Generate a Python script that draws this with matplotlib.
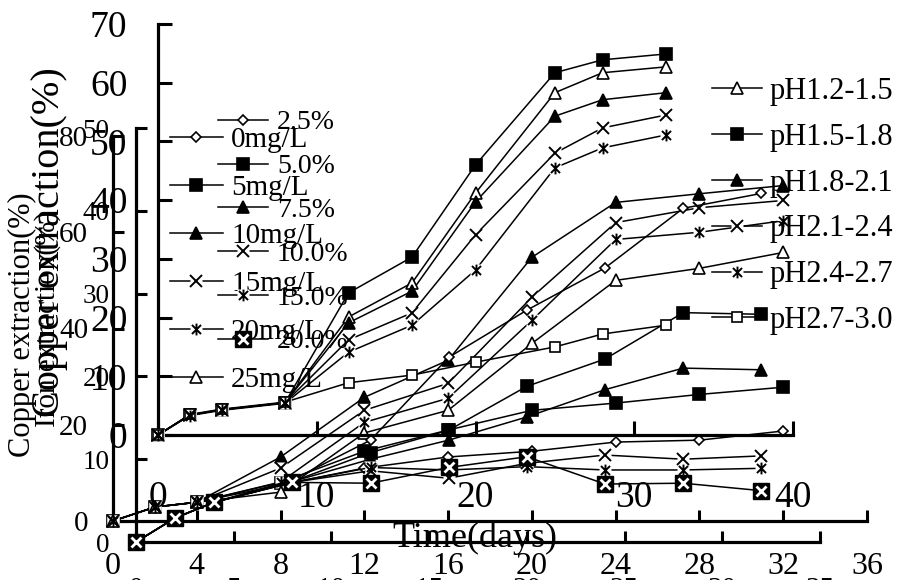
import numpy as np
import matplotlib.pyplot as plt
from matplotlib.path import Path
from matplotlib.legend_handler import HandlerTuple

plt.rcParams['font.family'] = ['Liberation Serif', 'DejaVu Serif']

# ---- chart 1: copper extraction vs pH range ----
ph_days = [0, 2, 4, 8, 12, 16, 20, 25, 28, 32]
ph_labels = ["pH1.2-1.5", "pH1.5-1.8", "pH1.8-2.1", "pH2.1-2.4", "pH2.4-2.7", "pH2.7-3.0"]
ph_12_15 = [0, 3.4, 4.3, 5.5, 20.1, 25.9, 41.2, 58.3, 61.7, 62.7]
ph_15_18 = [0, 3.4, 4.3, 5.5, 24.2, 30.3, 46.0, 61.7, 63.9, 64.9]
ph_18_21 = [0, 3.4, 4.3, 5.5, 19.1, 24.5, 39.7, 54.3, 57.1, 58.3]
ph_21_24 = [0, 3.4, 4.3, 5.5, 16.2, 20.8, 34.1, 48.0, 52.3, 54.5]
ph_24_27 = [0, 3.3, 4.2, 5.4, 14.1, 18.7, 28.1, 45.5, 48.9, 51.1]
ph_27_30 = [0, 3.5, 4.4, 5.6, 8.9, 10.2, 12.4, 15.0, 17.2, 18.7]

# ---- chart 2: copper extraction vs concentration (mg/L) ----
mg_days = [0, 2, 4, 8, 12, 16, 20, 24, 28, 32]
mg_labels = ["0mg/L", "5mg/L", "10mg/L", "15mg/L", "20mg/L", "25mg/L"]
mg_0 = [0, 2.9, 3.9, 7.5, 11.0, 13.3, 14.5, 16.4, 16.8, 18.7]
mg_5 = [0, 2.9, 3.9, 8.0, 14.5, 18.9, 23.0, 24.5, 26.3, 27.8]
mg_10 = [0, 2.9, 3.9, 13.3, 25.7, 33.4, 54.8, 66.2, 68.0, 69.7]
mg_15 = [0, 2.9, 3.9, 11.0, 23.0, 28.6, 46.5, 62.0, 65.1, 66.6]
mg_20 = [0, 2.9, 3.9, 8.1, 20.5, 25.5, 41.7, 58.5, 60.0, 62.4]
mg_25 = [0, 2.9, 3.9, 6.0, 18.3, 23.0, 36.9, 50.0, 52.5, 55.8]

# ---- chart 3: iron extraction vs pulp density (%) ----
pc_days = [0, 2, 4, 8, 12, 16, 20, 24, 28, 32]
pc_labels = ["2.5%", "5.0%", "7.5%", "10.0%", "15.0%", "20.0%"]
pc_25 = [0, 2.9, 4.8, 7.5, 12.3, 22.3, 28.0, 33.1, 40.3, 42.1]
pc_50 = [0, 2.9, 4.8, 7.3, 10.8, 13.5, 18.8, 22.1, 27.7, 27.5]
pc_75 = [0, 2.9, 4.8, 7.3, 10.0, 12.3, 15.1, 18.4, 21.0, 20.8]
pc_100 = [0, 2.9, 4.8, 7.2, 8.6, 7.7, 9.5, 10.5, 10.0, 10.4]
pc_150 = [0, 2.9, 4.8, 7.2, 9.0, 8.7, 9.1, 8.7, 8.7, 8.9]
pc_200 = [0, 2.9, 4.8, 7.2, 7.1, 9.0, 10.3, 7.0, 7.1, 6.2]

W, H = 900, 580
fig = plt.figure(figsize=(W / 100, H / 100), dpi=100)

# asterisk marker: an x with a vertical bar through it
ast = Path([(-1, -1), (1, 1), (-1, 1), (1, -1), (0, -1.3), (0, 1.3)],
           [Path.MOVETO, Path.LINETO, Path.MOVETO, Path.LINETO, Path.MOVETO, Path.LINETO])


def make_axes(x0, x1, ytop, ybot):
    ax = fig.add_axes([x0 / W, 1 - ybot / H, (x1 - x0) / W, (ybot - ytop) / H])
    ax.patch.set_visible(False)
    for s in ("top", "right"):
        ax.spines[s].set_visible(False)
    for s in ("left", "bottom"):
        ax.spines[s].set_linewidth(2.3)
    return ax


def style_ticks(ax, ysize, xsize, ypad, xpad, tlen):
    ax.tick_params(axis="y", direction="in", length=tlen, width=2.2, labelsize=ysize, pad=ypad)
    ax.tick_params(axis="x", direction="in", length=tlen, width=2.2, labelsize=xsize, pad=xpad)


def plot_series(ax, x, y, kind, ms=8.5):
    kw = dict(clip_on=False, color="black")
    line, = ax.plot(x, y, lw=1.1, zorder=2, **kw)
    parts = [line]
    if kind in ("x", "ast"):
        bg, = ax.plot(x, y, ls="none", marker="s", ms=ms * 1.1, mfc="white", mec="none", zorder=3, clip_on=False)
        parts.append(bg)
        m = "x" if kind == "x" else ast
        mk, = ax.plot(x, y, ls="none", marker=m, ms=ms, mew=1.4, mfc="none", zorder=4, **kw)
        parts.append(mk)
    elif kind == "sqx":
        sq, = ax.plot(x, y, ls="none", marker="s", ms=11, mfc="black", mec="black", zorder=3, **kw)
        xx, = ax.plot(x, y, ls="none", marker="x", ms=7, mew=2, mec="white", zorder=4, clip_on=False)
        parts += [sq, xx]
    else:
        marker, face, size = {
            "otri": ("^", "white", ms * 1.05),
            "ftri": ("^", "black", ms * 1.05),
            "osq": ("s", "white", ms * 0.85),
            "fsq": ("s", "black", ms),
            "odia": ("D", "white", ms * 0.62),
        }[kind]
        mk, = ax.plot(x, y, ls="none", marker=marker, ms=size, mfc=face, mec="black", mew=1.2, zorder=3, **kw)
        parts.append(mk)
    return tuple(parts)


# axes: concentration chart (0-80), pulp density chart (0-50), pH chart (0-70)
ax_mg = make_axes(113, 867, 136, 521)
ax_mg.set_xlim(0, 36)
ax_mg.set_ylim(0, 80)
ax_mg.set_xticks(np.arange(0, 37, 4))
ax_mg.set_yticks(np.arange(0, 81, 20))
style_ticks(ax_mg, 21, 23, 18, 22, 8)

ax_pc = make_axes(136, 820, 128, 542)
ax_pc.set_xlim(0, 35)
ax_pc.set_ylim(0, 50)
ax_pc.set_xticks(np.arange(0, 36, 5))
ax_pc.set_yticks(np.arange(0, 51, 10))
style_ticks(ax_pc, 19.5, 21, 19, 25, 8)

ax_ph = make_axes(158, 793, 24, 435)
ax_ph.set_xlim(0, 40)
ax_ph.set_ylim(0, 70)
ax_ph.set_xticks(np.arange(0, 41, 10))
ax_ph.set_yticks(np.arange(0, 71, 10))
style_ticks(ax_ph, 27, 27, 22, 33, 10)

kinds_ph = ["otri", "fsq", "ftri", "x", "ast", "osq"]
kinds_mg = ["odia", "fsq", "ftri", "x", "ast", "otri"]
kinds_pc = ["odia", "fsq", "ftri", "x", "ast", "sqx"]

h_ph = [plot_series(ax_ph, ph_days, v, k) for v, k in
        zip([ph_12_15, ph_15_18, ph_18_21, ph_21_24, ph_24_27, ph_27_30], kinds_ph)]
h_mg = [plot_series(ax_mg, mg_days, v, k) for v, k in
        zip([mg_0, mg_5, mg_10, mg_15, mg_20, mg_25], kinds_mg)]
h_pc = [plot_series(ax_pc, pc_days, v, k) for v, k in
        zip([pc_25, pc_50, pc_75, pc_100, pc_150, pc_200], kinds_pc)]

leg_kw = dict(loc="upper left", frameon=False, borderpad=0, borderaxespad=0, numpoints=1,
              handler_map={tuple: HandlerTuple(ndivide=1, pad=0)})
fig.legend(h_mg, mg_labels, bbox_to_anchor=(170 / W, 1 - 127 / H), fontsize=21,
           handlelength=1.8, handletextpad=0.3, labelspacing=0.74, **leg_kw)
fig.legend(h_pc, pc_labels, bbox_to_anchor=(218 / W, 1 - 110 / H), fontsize=20,
           handlelength=1.8, handletextpad=0.32, labelspacing=0.66, **leg_kw)
fig.legend(h_ph, ph_labels, bbox_to_anchor=(712 / W, 1 - 77 / H), fontsize=22,
           handlelength=1.63, handletextpad=0.26, labelspacing=0.55, **leg_kw)

# axis titles, drawn where they sit in the original
fig.text(22 / W, 1 - 325 / H, "Copper extraction(%)", rotation=90, ha="center", va="center", fontsize=22)
fig.text(48 / W, 1 - 427 / H, "Iron extraction(%)", rotation=90, ha="center", va="bottom", fontsize=21)
fig.text(50 / W, 1 - 242 / H, "Copper extraction(%)", rotation=90, ha="center", va="center", fontsize=29)
fig.text(475 / W, 1 - 538 / H, "Time(days)", ha="center", va="center", fontsize=26)

fig.savefig("out.png", dpi=100)
